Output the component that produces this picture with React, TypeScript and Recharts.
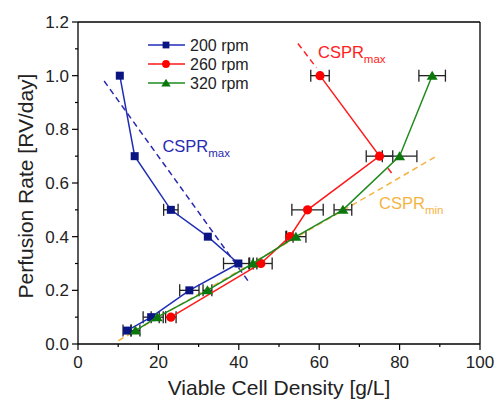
import React from 'react';
import {
  ScatterChart,
  Scatter,
  XAxis,
  YAxis,
  ErrorBar,
  ReferenceLine,
  ReferenceDot,
  Legend,
} from 'recharts';

const FONT = '"Liberation Sans", Arial, sans-serif';

// 200 rpm
const rate200 = [1.0, 0.7, 0.5, 0.4, 0.3, 0.2, 0.1, 0.05];
const vcd200 = [10.4, 14.1, 23.1, 32.3, 39.9, 27.7, 18.2, 12.2];
const err200 = [0, 0, 1.8, 0, 3.7, 2.4, 2.0, 1.0];

// 260 rpm
const rate260 = [1.0, 0.7, 0.5, 0.4, 0.3, 0.1];
const vcd260 = [60.2, 75.0, 57.1, 52.7, 45.5, 23.1];
const err260 = [2.3, 3.3, 3.9, 0.8, 2.8, 1.3];

// 320 rpm
const rate320 = [1.0, 0.7, 0.5, 0.4, 0.3, 0.2, 0.1, 0.05];
const vcd320 = [88.1, 80.0, 65.9, 54.2, 43.5, 32.2, 19.7, 14.3];
const err320 = [3.3, 4.3, 2.2, 2.5, 1.0, 1.1, 1.5, 1.1];

// CSPR lines
const blueDash = [{ x: 6.5, y: 0.98 }, { x: 42.3, y: 0.235 }];
const redDashA = [{ x: 54.7, y: 1.12 }, { x: 59.3, y: 1.03 }];
const redDashB = [{ x: 77.1, y: 0.655 }, { x: 78.5, y: 0.628 }];
const orangeDash = [{ x: 10, y: 0.012 }, { x: 89.2, y: 0.7 }];

const xTicks = [0, 10, 20, 30, 40, 50, 60, 70, 80, 90, 100];
const yTicks = [0, 0.1, 0.2, 0.3, 0.4, 0.5, 0.6, 0.7, 0.8, 0.9, 1.0, 1.1, 1.2];

const toPoints = (xs: number[], ys: number[], es: number[]) =>
  xs.map((x, i) => ({ x, y: ys[i], ex: es[i] }));

const series = [
  { name: '200 rpm', data: toPoints(vcd200, rate200, err200), line: '#1f2db5', fill: '#0a1583', shape: 'square' },
  { name: '260 rpm', data: toPoints(vcd260, rate260, err260), line: '#ff1a1a', fill: '#ff0000', shape: 'circle' },
  { name: '320 rpm', data: toPoints(vcd320, rate320, err320), line: '#1e8a1e', fill: '#0a780a', shape: 'triangle' },
];

const Marker = ({ cx, cy, shape, fill, s = 1 }: any) => {
  if (shape === 'square') {
    const h = 4 * s;
    return <rect x={cx - h} y={cy - h} width={2 * h} height={2 * h} fill={fill} />;
  }
  if (shape === 'circle') {
    return <circle cx={cx} cy={cy} r={4.6 * s} fill={fill} />;
  }
  const h = 5 * s;
  return (
    <polygon
      points={`${cx},${cy - h} ${cx + h * 1.1},${cy + h * 0.8} ${cx - h * 1.1},${cy + h * 0.8}`}
      fill={fill}
    />
  );
};

const isMajorX = (v: number) => v % 20 === 0;
const isMajorY = (v: number) => Math.round(v * 10) % 2 === 0;

const BottomTick = ({ x, y, payload }: any) => {
  const major = isMajorX(payload.value);
  return (
    <g>
      <line x1={x} x2={x} y1={y} y2={y + (major ? 6 : 3)} stroke="#000" strokeWidth={1.2} />
      {major && (
        <text x={x} y={y + 24} textAnchor="middle" fontSize={17} fontFamily={FONT} fill="#222">
          {payload.value}
        </text>
      )}
    </g>
  );
};

const TopTick = ({ x, y, payload }: any) => {
  const major = isMajorX(payload.value);
  return <line x1={x} x2={x} y1={y} y2={y - (major ? 6 : 3)} stroke="#000" strokeWidth={1.2} />;
};

const LeftTick = ({ x, y, payload }: any) => {
  const major = isMajorY(payload.value);
  return (
    <g>
      <line x1={x} x2={x - (major ? 6 : 3)} y1={y} y2={y} stroke="#000" strokeWidth={1.2} />
      {major && (
        <text x={x - 9} y={y + 6} textAnchor="end" fontSize={17} fontFamily={FONT} fill="#222">
          {payload.value.toFixed(1)}
        </text>
      )}
    </g>
  );
};

const RightTick = ({ x, y, payload }: any) => {
  const major = isMajorY(payload.value);
  return <line x1={x} x2={x + (major ? 6 : 3)} y1={y} y2={y} stroke="#000" strokeWidth={1.2} />;
};

const csprLabel = (sub: string, color: string) => (props: any) => (
  <text x={props.cx} y={props.cy} fontSize={16.5} fontFamily={FONT} fill={color}>
    CSPR
    <tspan fontSize={11.5} dy={5}>
      {sub}
    </tspan>
  </text>
);

const LegendBox = () => (
  <svg width={110} height={60}>
    {series.map((s, i) => {
      const y = 10 + i * 19;
      return (
        <g key={s.name}>
          <line x1={2} x2={39} y1={y} y2={y} stroke={s.line} strokeWidth={1.5} />
          <Marker cx={20} cy={y} shape={s.shape} fill={s.fill} s={0.85} />
          <text x={44} y={y + 5.5} fontSize={16} fontFamily={FONT} fill="#222">
            {s.name}
          </text>
        </g>
      );
    })}
  </svg>
);

const App: React.FC = () => {
  return (
    <div style={{ position: 'absolute', left: 0, top: 0, width: 499, height: 407, background: '#fff' }}>
      <ScatterChart width={499} height={407} margin={{ top: 21, right: 18, bottom: 0, left: 0 }}>
        <XAxis
          type="number"
          dataKey="x"
          domain={[0, 100]}
          ticks={xTicks}
          interval={0}
          tickSize={0}
          tickMargin={0}
          tick={<BottomTick />}
          tickLine={false}
          height={63}
          axisLine={{ stroke: '#000', strokeWidth: 1.3 }}
          label={() => (
            <text x={279} y={395} textAnchor="middle" fontSize={21} fontFamily={FONT} fill="#222">
              Viable Cell Density [g/L]
            </text>
          )}
        />
        <XAxis
          xAxisId="top"
          orientation="top"
          type="number"
          domain={[0, 100]}
          ticks={xTicks}
          interval={0}
          tickSize={0}
          tickMargin={0}
          tick={<TopTick />}
          tickLine={false}
          height={1}
          axisLine={{ stroke: '#000', strokeWidth: 1.3 }}
        />
        <YAxis
          type="number"
          dataKey="y"
          domain={[0, 1.2]}
          ticks={yTicks}
          interval={0}
          tickSize={0}
          tickMargin={0}
          tick={<LeftTick />}
          tickLine={false}
          width={78}
          axisLine={{ stroke: '#000', strokeWidth: 1.3 }}
          label={() => (
            <text
              x={0}
              y={0}
              transform="translate(33,186) rotate(-90)"
              textAnchor="middle"
              fontSize={21}
              fontFamily={FONT}
              fill="#222"
            >
              Perfusion Rate [RV/day]
            </text>
          )}
        />
        <YAxis
          yAxisId="right"
          orientation="right"
          type="number"
          domain={[0, 1.2]}
          ticks={yTicks}
          interval={0}
          tickSize={0}
          tickMargin={0}
          tick={<RightTick />}
          tickLine={false}
          width={1}
          axisLine={{ stroke: '#000', strokeWidth: 1.3 }}
        />

        {/* CSPR dashed lines */}
        <ReferenceLine segment={blueDash} stroke="#2a2ab0" strokeWidth={1.5} strokeDasharray="6 4" />
        <ReferenceLine segment={redDashA} stroke="#ff2020" strokeWidth={1.5} strokeDasharray="6 4" />
        <ReferenceLine segment={redDashB} stroke="#ff2020" strokeWidth={1.5} strokeDasharray="6 4" />
        <ReferenceLine segment={orangeDash} stroke="#f6b343" strokeWidth={1.5} strokeDasharray="6 4" />

        {series.map((s) => (
          <Scatter
            key={s.name}
            name={s.name}
            data={s.data}
            line={{ stroke: s.line, strokeWidth: 1.5 }}
            lineType="joint"
            shape={(p: any) => <Marker cx={p.cx} cy={p.cy} shape={s.shape} fill={s.fill} />}
            isAnimationActive={false}
          >
            <ErrorBar dataKey="ex" direction="x" width={6} stroke="#222" strokeWidth={1.3} />
          </Scatter>
        ))}

        <ReferenceDot x={21} y={0.716} r={0} shape={csprLabel('max', '#2a2ab0')} />
        <ReferenceDot x={59.7} y={1.066} r={0} shape={csprLabel('max', '#ff2020')} />
        <ReferenceDot x={74.9} y={0.503} r={0} shape={csprLabel('min', '#f6b343')} />

        <Legend
          layout="vertical"
          align="center"
          verticalAlign="middle"
          content={() => <LegendBox />}
          wrapperStyle={{ left: 146, top: 35, width: 110, height: 60 }}
        />
      </ScatterChart>
    </div>
  );
};

export default App;
